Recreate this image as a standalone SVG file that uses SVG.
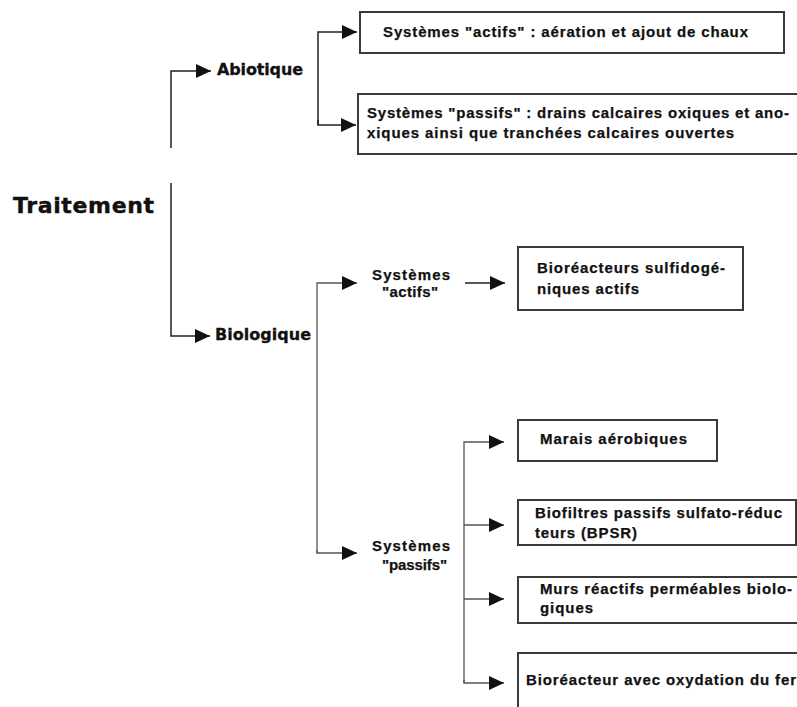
<svg xmlns="http://www.w3.org/2000/svg" width="797" height="707" viewBox="0 0 797 707">
<style>
text{font-family:"Liberation Sans",Arial,sans-serif;font-weight:bold;fill:#111;font-size:15px;stroke:#111;stroke-width:0.25}
.big{font-family:"DejaVu Sans",Verdana,sans-serif;font-size:22px;stroke-width:0.4}
.mid{font-family:"DejaVu Sans",Verdana,sans-serif;font-size:16px;stroke-width:0.3}
.box{fill:#fff;stroke:#3a3a3a;stroke-width:2}
.c{fill:none;stroke:#222;stroke-width:1.5}
.g{fill:none;stroke:#555;stroke-width:1.3}
</style>
<defs>
<marker id="ah" markerUnits="userSpaceOnUse" markerWidth="16" markerHeight="15" refX="15" refY="7" orient="auto">
<path d="M0,0 L15,7 L0,14 Z" fill="#111"/>
</marker>
</defs>
<rect width="797" height="707" fill="#fff"/>
<g id="connectors">
<path class="c" d="M171,148 V71 H211" marker-end="url(#ah)"/>
<path class="c" d="M171,183 V336 H210" marker-end="url(#ah)"/>
<path class="c" d="M318,125 V32 H357" marker-end="url(#ah)"/>
<path class="c" d="M318,120 V125 H356" marker-end="url(#ah)"/>
<path class="g" d="M317,553 V283 H357" marker-end="url(#ah)"/>
<path class="g" d="M317,550 V553 H357" marker-end="url(#ah)"/>
<path class="c" d="M465,283 H505" marker-end="url(#ah)"/>
<path class="g" d="M464,683 V442 H504" marker-end="url(#ah)"/>
<path class="g" d="M464,525 H504" marker-end="url(#ah)"/>
<path class="g" d="M464,599 H504" marker-end="url(#ah)"/>
<path class="g" d="M464,680 V683 H504" marker-end="url(#ah)"/>
</g>
<g id="traitement"><text class="big" x="13" y="213" textLength="141">Traitement</text></g>
<g id="abiotique"><text class="mid" x="217" y="75" textLength="86">Abiotique</text></g>
<g id="biologique"><text class="mid" x="215" y="340" textLength="96">Biologique</text></g>
<g id="abio-actifs">
<rect class="box" x="360" y="12" width="424" height="41"/>
<text x="383" y="37" textLength="365">Systèmes "actifs" : aération et ajout de chaux</text>
</g>
<g id="abio-passifs">
<rect class="box" x="358" y="94" width="445" height="60"/>
<text x="367" y="118" textLength="422">Systèmes "passifs" : drains calcaires oxiques et ano-</text>
<text x="367" y="138" textLength="367">xiques ainsi que tranchées calcaires ouvertes</text>
</g>
<g id="bio-actifs">
<text x="372" y="280" textLength="78">Systèmes</text>
<text x="382" y="297" textLength="56">"actifs"</text>
</g>
<g id="bio-passifs">
<text x="372" y="551" textLength="78">Systèmes</text>
<text x="382" y="570" textLength="65">"passifs"</text>
</g>
<g id="bioreacteurs-sulf">
<rect class="box" x="518" y="247" width="225" height="63"/>
<text x="537" y="273" textLength="188">Bioréacteurs sulfidogé-</text>
<text x="537" y="294" textLength="102">niques actifs</text>
</g>
<g id="marais">
<rect class="box" x="518" y="420" width="199" height="41"/>
<text x="540" y="444" textLength="147">Marais aérobiques</text>
</g>
<g id="biofiltres">
<rect class="box" x="518" y="500" width="278" height="45"/>
<text x="535" y="518" textLength="247">Biofiltres passifs sulfato-réduc</text>
<text x="535" y="538" textLength="102">teurs (BPSR)</text>
</g>
<g id="murs">
<rect class="box" x="518" y="577" width="290" height="46"/>
<text x="540" y="594" textLength="252">Murs réactifs perméables biolo-</text>
<text x="540" y="613" textLength="53">giques</text>
</g>
<g id="bioreacteur-fer">
<rect class="box" x="518" y="653" width="290" height="70"/>
<text x="526" y="685" textLength="270">Bioréacteur avec oxydation du fer</text>
</g>
</svg>
